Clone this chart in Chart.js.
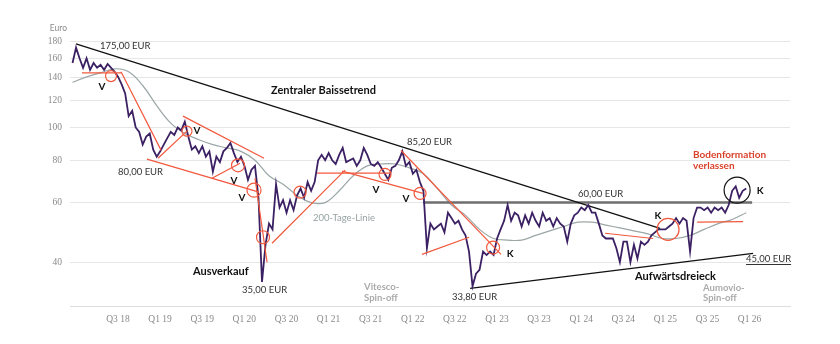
<!DOCTYPE html>
<html lang="de">
<head>
<meta charset="utf-8">
<title>Kursverlauf</title>
<script src="https://cdn.jsdelivr.net/npm/chart.js@4.4.1/dist/chart.umd.min.js"></script>
<style>
  html, body { margin: 0; padding: 0; background: #fff; }
  #wrap { width: 840px; height: 344px; }
</style>
</head>
<body>
<div id="wrap"><canvas id="chart" width="840" height="344"></canvas></div>
<script>
// Kurs in Euro, halbmonatlich ab Anfang 2018
const priceStart = 2017.96;
const priceStep = 1 / 24;
const priceValues = [
  155, 172, 160, 150, 160, 148, 155, 150, 153, 148, 154, 150, 146,
  141, 134, 126, 108, 112, 100, 97, 89, 94, 96, 86, 82, 85, 89, 93, 97, 95, 100, 98, 104, 94, 86, 88, 84, 88, 82, 85,
  74, 82, 79, 85, 87, 90, 84, 79, 82, 77, 70, 75, 77, 62, 35, 45, 52, 50, 68, 58,
  61, 56, 61, 57, 63, 66, 62, 69, 65, 69, 80, 83, 80, 84, 80, 78, 83, 87, 79, 80,
  81, 77, 80, 87, 83, 78, 77, 79, 76, 73, 70, 76, 77, 80, 85, 77, 79, 73, 75, 69,
  65, 44, 52, 50, 51, 52, 49, 56, 54, 52, 53, 50, 48, 43, 34, 37, 38, 43, 42, 43,
  42, 47, 50, 53, 59, 53, 56, 55, 51, 55, 52, 56, 53, 51, 56, 53, 54, 51, 54, 52,
  51, 46, 52, 55, 56, 58, 57, 59, 56, 56, 52, 48, 47, 47, 47, 44, 40, 46, 46, 40,
  45, 41, 46, 45, 46, 48, 49, 50, 50, 50, 51, 52, 54, 52, 54, 53, 43, 54, 58, 58,
  57, 58, 56, 58, 57, 58, 56, 59, 65, 67, 62, 65, 66
];

// 200-Tage-Linie, zweimonatlich
const smaStart = 2017.96;
const smaStep = 1 / 6;
const smaValues = [
  136, 141, 145, 149, 146, 133, 116, 103, 96, 92,
  89, 87, 85, 80, 72, 68, 63, 60, 60, 65,
  72, 77, 78, 78, 76, 73, 66, 59, 55, 50,
  47, 46.5, 46.5, 48, 49.5, 51, 52.5, 52.5, 51.5, 50.5,
  49.5, 48.5, 47, 47, 48, 50, 52, 53.5, 56
];

// Achsen
const yTicks = [40, 60, 80, 100, 120, 140, 160, 180];
const xTicks = [2018.5, 2019, 2019.5, 2020, 2020.5, 2021, 2021.5, 2022, 2022.5, 2023, 2023.5, 2024, 2024.5, 2025, 2025.5, 2026];
const xTickLabels = ['Q3 18', 'Q1 19', 'Q3 19', 'Q1 20', 'Q3 20', 'Q1 21', 'Q3 21', 'Q1 22', 'Q3 22', 'Q1 23', 'Q3 23', 'Q1 24', 'Q3 24', 'Q1 25', 'Q3 25', 'Q1 26'];

// Trendlinien [Zeit, Kurs]
const trendLines = [
  [[2018.001, 176.4], [2024.937, 50.35]],   // zentraler Baissetrend
  [[2022.681, 33.46], [2026.042, 42.47]]    // Aufwärtsdreieck
];
const resistanceLine = [[2022.122, 60], [2026.03, 60]];
const redLines = [
  [[2018.072, 145], [2018.536, 145]],
  [[2018.536, 146], [2019.011, 85.7]],
  [[2018.975, 81.1], [2019.331, 98.2]],
  [[2019.272, 108], [2020.234, 81.1]],
  [[2018.844, 80.6], [2020.175, 64.4]],
  [[2019.616, 70.8], [2019.949, 78.4]],
  [[2020.127, 70.8], [2020.27, 40]],
  [[2020.329, 45.5], [2021.196, 74.8]],
  [[2020.863, 73.3], [2021.73, 73.3]],
  [[2021.16, 74.3], [2022.122, 63.9]],
  [[2021.861, 85.5], [2023.049, 42.2]],
  [[2022.11, 42.2], [2022.669, 47.4]],
  [[2024.284, 48.7], [2024.854, 47]],
  [[2025.377, 52.5], [2025.923, 52.7]]
];
const redCircles = [
  [2018.417, 141.8], [2019.319, 97.5], [2019.925, 77.3], [2020.115, 65.3], [2020.222, 47.4],
  [2020.662, 64.4], [2021.671, 72.7], [2022.087, 63.9], [2022.954, 44.2], [2025.032, 50]
];
const blackCircles = [[2025.852, 65.3]];

// Beschriftungen
const notes = [
  { text: 'Euro', t: 2017.69, v: 196.7, kind: 'unit' },
  { text: '175,00 EUR', t: 2018.286, v: 174, kind: 'value' },
  { text: 'Zentraler Baissetrend', t: 2020.317, v: 128.9, kind: 'title' },
  { text: 'V', t: 2018.31, v: 131.6, kind: 'mark' },
  { text: '80,00 EUR', t: 2018.5, v: 73.8, kind: 'value' },
  { text: 'V', t: 2019.438, v: 97.5, kind: 'mark' },
  { text: 'V', t: 2019.878, v: 69.4, kind: 'mark' },
  { text: 'V', t: 2019.973, v: 61.8, kind: 'mark' },
  { text: 'Ausverkauf', t: 2019.391, v: 37.6, kind: 'title' },
  { text: '35,00 EUR', t: 2019.973, v: 33.2, kind: 'value' },
  { text: '200-Tage-Linie', t: 2020.816, v: 53.9, kind: 'sma' },
  { text: 'V', t: 2021.564, v: 65.3, kind: 'mark' },
  { text: 'V', t: 2021.92, v: 61.4, kind: 'mark' },
  { text: '85,20 EUR', t: 2021.932, v: 90.5, kind: 'value' },
  { text: 'Vitesco-', t: 2021.422, v: 33.7, kind: 'spin' },
  { text: 'Spin-off', t: 2021.422, v: 31.3, kind: 'spin' },
  { text: '33,80 EUR', t: 2022.467, v: 31.5, kind: 'value' },
  { text: 'K', t: 2023.156, v: 42.47, kind: 'mark' },
  { text: '60,00 EUR', t: 2023.963, v: 63.5, kind: 'value' },
  { text: 'K', t: 2024.913, v: 55, kind: 'mark' },
  { text: 'Bodenformation', t: 2025.329, v: 82.8, kind: 'alert' },
  { text: 'verlassen', t: 2025.329, v: 76.8, kind: 'alert' },
  { text: 'K', t: 2026.125, v: 64.8, kind: 'mark' },
  { text: '45,00 EUR', t: 2025.958, v: 40.8, kind: 'value', underline: true },
  { text: 'Aufwärtsdreieck', t: 2024.64, v: 36.3, kind: 'title' },
  { text: 'Aumovio-', t: 2025.448, v: 33.6, kind: 'spin' },
  { text: 'Spin-off', t: 2025.448, v: 31.3, kind: 'spin' }
];

const noteStyles = {
  unit:  { font: '8.5px Lato', color: '#8a8a8a', align: 'left' },
  value: { font: '9.5px Lato', color: '#333333', align: 'left' },
  title: { font: 'bold 11px Lato', color: '#111111', align: 'left' },
  mark:  { font: 'bold 10px Lato', color: '#111111', align: 'center' },
  sma:   { font: '9.5px Lato', color: '#98a3a3', align: 'left' },
  spin:  { font: 'bold 9.5px Lato', color: '#ababab', align: 'left' },
  alert: { font: 'bold 10px Lato', color: '#d9412b', align: 'left' }
};

const RED = '#f2583d';
const redRadii = [5.5, 5, 6.5, 7, 6.5, 6, 6, 6, 6.5, 11];
const blackRadii = [13];

const toPoints = seg => seg.map(p => ({ x: p[0], y: p[1] }));

const datasets = [];

// Kreise oben
datasets.push({
  type: 'scatter', data: toPoints(redCircles), order: 0,
  pointRadius: redRadii, pointBorderColor: RED, pointBackgroundColor: 'rgba(0,0,0,0)', pointBorderWidth: 1.2
});
datasets.push({
  type: 'scatter', data: toPoints(blackCircles), order: 0,
  pointRadius: blackRadii, pointBorderColor: '#111', pointBackgroundColor: 'rgba(0,0,0,0)', pointBorderWidth: 1.2
});

redLines.forEach(seg => datasets.push({
  type: 'line', data: toPoints(seg), order: 1,
  borderColor: RED, borderWidth: 1.2, pointRadius: 0
}));

datasets.push({
  type: 'line', order: 2,
  data: priceValues.map((v, i) => ({ x: priceStart + i * priceStep, y: v })),
  borderColor: '#3b2063', borderWidth: 1.8, pointRadius: 0, tension: 0
});

trendLines.forEach(seg => datasets.push({
  type: 'line', data: toPoints(seg), order: 3,
  borderColor: '#111', borderWidth: 1.3, pointRadius: 0
}));

datasets.push({
  type: 'line', data: toPoints(resistanceLine), order: 3,
  borderColor: '#6e6e6e', borderWidth: 2.5, pointRadius: 0
});

datasets.push({
  type: 'line', order: 4,
  data: smaValues.map((v, i) => ({ x: smaStart + i * smaStep, y: v })),
  borderColor: '#9ba6a6', borderWidth: 1.2, pointRadius: 0, tension: 0.4
});

// Texte in Datenkoordinaten zeichnen
const notePlugin = {
  id: 'notes',
  afterDatasetsDraw(chart) {
    const { ctx, scales: { x, y } } = chart;
    ctx.save();
    ctx.textBaseline = 'middle';
    notes.forEach(n => {
      const st = noteStyles[n.kind];
      const px = x.getPixelForValue(n.t);
      const py = y.getPixelForValue(n.v);
      ctx.font = st.font;
      ctx.fillStyle = st.color;
      ctx.textAlign = st.align;
      ctx.fillText(n.text, px, py);
      if (n.underline) {
        const w = ctx.measureText(n.text).width;
        ctx.strokeStyle = st.color;
        ctx.lineWidth = 1;
        ctx.beginPath();
        ctx.moveTo(px, Math.round(py) + 5.5);
        ctx.lineTo(px + w, Math.round(py) + 5.5);
        ctx.stroke();
      }
    });
    ctx.restore();
  }
};

new Chart(document.getElementById('chart'), {
  data: { datasets },
  options: {
    responsive: false,
    animation: false,
    events: [],
    layout: { padding: { top: 41, right: 50, bottom: 8, left: 30 } },
    plugins: { legend: { display: false }, tooltip: { enabled: false } },
    scales: {
      x: {
        type: 'linear', min: 2017.93, max: 2026.48,
        grid: { display: false, drawTicks: false },
        border: { display: true, color: '#dedede', width: 1 },
        afterBuildTicks: s => { s.ticks = xTicks.map(v => ({ value: v })); },
        afterFit: s => { s.height = 30; },
        ticks: {
          autoSkip: false, maxRotation: 0, padding: 8,
          color: '#8a8a8a', font: { family: 'Liberation Serif', size: 9.5 },
          callback: (v, i) => xTickLabels[i]
        }
      },
      y: {
        type: 'logarithmic', min: 29.7, max: 180,
        grid: { color: '#e6e6e6', lineWidth: 1, drawTicks: false },
        border: { display: false },
        afterBuildTicks: s => { s.ticks = yTicks.map(v => ({ value: v })); },
        afterFit: s => { s.width = 40; },
        ticks: {
          padding: 8, color: '#8a8a8a', font: { family: 'Liberation Serif', size: 9.5 },
          callback: v => String(v)
        }
      }
    }
  },
  plugins: [notePlugin]
});
</script>
</body>
</html>
